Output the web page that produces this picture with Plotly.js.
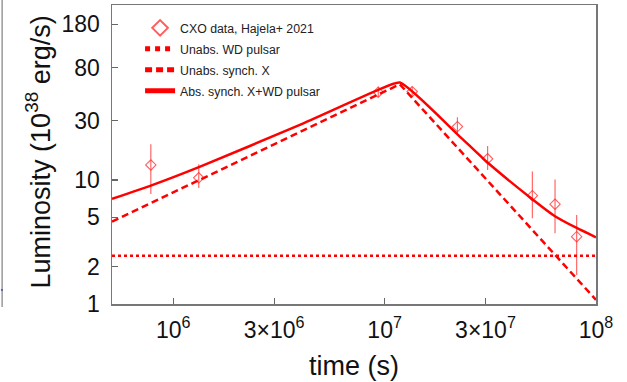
<!DOCTYPE html>
<html>
<head>
<meta charset="utf-8">
<script src="https://cdn.plot.ly/plotly-3.0.1.min.js"></script>
<style>html,body{margin:0;padding:0;background:#fff;}#chart{width:627px;height:382px;}</style>
</head>
<body>
<div id="chart"></div>
<script>
// CXO data (Hajela+ 2021)
const dataTime = [7.83e5, 1.32e6, 9.33e6, 1.35e7, 2.21e7, 3.07e7, 5.0e7, 6.4e7, 8.1e7];
const dataLum  = [13.2, 10.4, 51, 51.5, 26.9, 14.8, 7.47, 6.37, 3.49];
const dataErrUp   = [6.2, 3.0, 5.5, 5.0, 5.1, 4.0, 4.2, 3.7, 1.73];
const dataErrDown = [5.5, 1.8, 4.3, 4.5, 3.1, 2.8, 2.56, 2.65, 1.78];

// Unabs. WD pulsar (constant)
const wdTime = [5.13e5, 1e8];
const wdLum  = [2.45, 2.45];

// Unabs. synch. X (broken power law)
const synTime = [5.13e5, 1.18e7, 1e8];
const synLum  = [4.61, 59, 1.08];

// Abs. synch. X + WD pulsar
const totTime = [5.13e5, 7.83e5, 1.34e6, 3.97e6, 9.16e6, 1.18e7, 2.23e7, 3.04e7, 5.05e7, 6.4e7, 8.1e7, 1e8];
const totLum  = [7.03, 9.0, 12.8, 27.8, 52.5, 61, 23.0, 14.0, 6.9, 5.1, 4.1, 3.45];

const xTickVals = [1e6, 3e6, 1e7, 3e7, 1e8];
const xTickText = ['10<sup>6</sup>', '3×10<sup>6</sup>', '10<sup>7</sup>', '3×10<sup>7</sup>', '10<sup>8</sup>'];
const yTickVals = [1, 2, 5, 10, 30, 80, 180];
const yTickText = ['1', '2', '5', '10', '30', '80', '180'];

const xTitle = 'time (s)';
const yTitle = 'Luminosity (10<sup>38</sup> erg/s)';

const RED = 'rgb(255,0,0)';

const traces = [
  {
    x: dataTime, y: dataLum, type: 'scatter', mode: 'markers',
    name: 'CXO data, Hajela+ 2021', legendgroup: 'a',
    marker: {symbol: 'diamond-open', size: 8, color: 'rgba(255,40,40,0.75)', line: {width: 1.1}},
    error_y: {type: 'data', symmetric: false, array: dataErrUp, arrayminus: dataErrDown,
              color: 'rgba(255,40,40,0.7)', thickness: 1.2, width: 0}
  },
  {
    x: wdTime, y: wdLum, type: 'scatter', mode: 'lines',
    name: 'Unabs. WD pulsar', legendgroup: 'b',
    line: {color: RED, width: 2.5, dash: 'dot'}
  },
  {
    x: synTime, y: synLum, type: 'scatter', mode: 'lines',
    name: 'Unabs. synch. X', legendgroup: 'c',
    line: {color: RED, width: 2.5, dash: '7px,4px'}
  },
  {
    x: totTime, y: totLum, type: 'scatter', mode: 'lines',
    name: 'Abs. synch. X+WD pulsar', legendgroup: 'd',
    line: {color: RED, width: 2.5, shape: 'spline', smoothing: 0.5}
  }
];

const layout = {
  width: 627, height: 382,
  margin: {l: 112, r: 31, t: 5, b: 78},
  paper_bgcolor: '#fff', plot_bgcolor: '#fff',
  font: {family: 'Arial, "Liberation Sans", sans-serif', color: '#111'},
  showlegend: true,
  legend: {
    x: 0.058, y: 0.972, xanchor: 'left', yanchor: 'top',
    bgcolor: 'rgba(0,0,0,0)', borderwidth: 0,
    font: {size: 12.3, color: '#222'},
    traceorder: 'grouped', tracegroupgap: 2, itemwidth: 30, itemsizing: 'constant'
  },
  xaxis: {
    type: 'log', range: [Math.log10(5.13e5), 8],
    tickmode: 'array', tickvals: xTickVals, ticktext: xTickText,
    ticks: 'inside', ticklen: 6, tickwidth: 1.2, tickcolor: '#666',
    ticklabelstandoff: 5,
    showline: true, linecolor: '#777', linewidth: 1.5, mirror: true,
    showgrid: false, zeroline: false,
    tickfont: {size: 23, color: '#111'}
  },
  yaxis: {
    type: 'log', range: [0, 2.41],
    tickmode: 'array', tickvals: yTickVals, ticktext: yTickText,
    ticks: 'inside', ticklen: 6, tickwidth: 1.2, tickcolor: '#666',
    ticklabelstandoff: 6,
    showline: true, linecolor: '#777', linewidth: 1.5, mirror: true,
    showgrid: false, zeroline: false,
    tickfont: {size: 23, color: '#111'}
  },
  annotations: [
    {text: xTitle, xref: 'paper', yref: 'paper', x: 0.5, y: -0.207, xanchor: 'center', yanchor: 'middle',
     showarrow: false, font: {size: 27, color: '#111'}},
    {text: yTitle, xref: 'paper', yref: 'paper', x: -0.153, y: 0.51, xanchor: 'center', yanchor: 'middle',
     textangle: -90, showarrow: false, font: {size: 27, color: '#111'}}
  ],
  shapes: [
    {type: 'line', xref: 'paper', yref: 'paper', x0: -0.227, x1: -0.227, y0: 1.02, y1: -0.01,
     line: {color: '#999', width: 1.5}},
    {type: 'line', xref: 'paper', yref: 'paper', x0: -0.2295, x1: -0.2255, y0: 0.047, y1: 0.047,
     line: {color: '#3344cc', width: 1.5}}
  ]
};

Plotly.newPlot('chart', traces, layout, {displayModeBar: false, staticPlot: true});
</script>
</body>
</html>
